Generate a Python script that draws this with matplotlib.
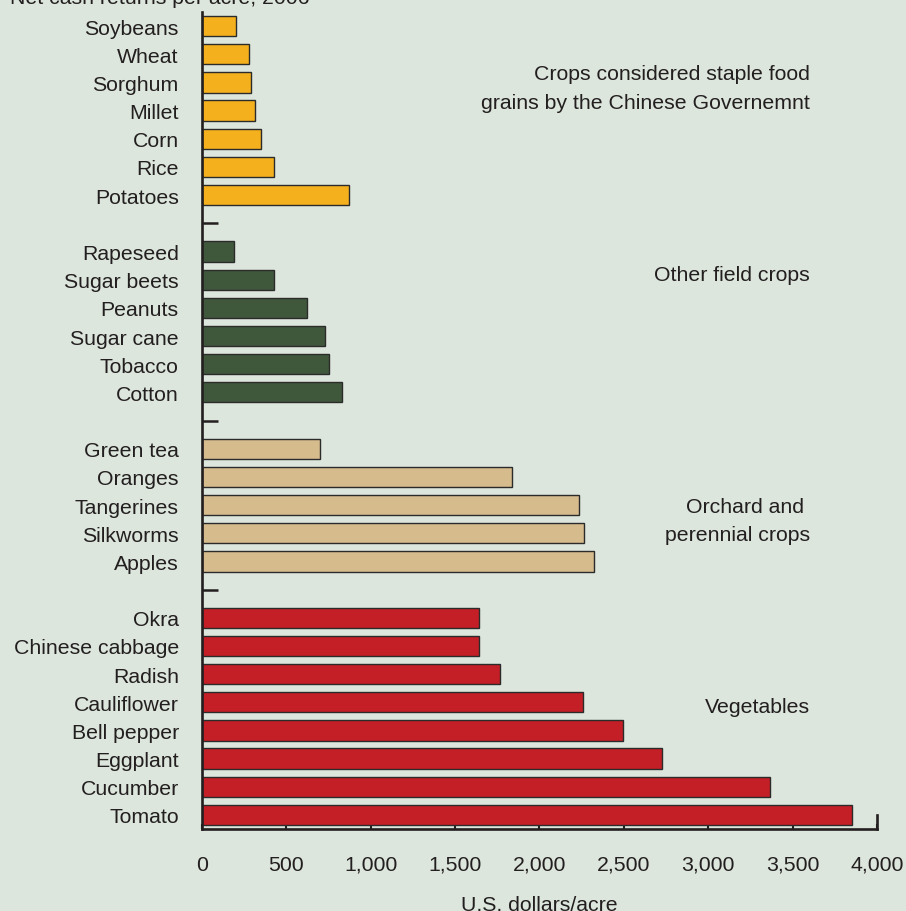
import numpy as np
import matplotlib.pyplot as plt
from matplotlib.ticker import FuncFormatter


# data, top to bottom within each group
staple_crops = ["Soybeans", "Wheat", "Sorghum", "Millet", "Corn", "Rice", "Potatoes"]
staple_values = [201, 282, 292, 314, 350, 427, 875]

field_crops = ["Rapeseed", "Sugar beets", "Peanuts", "Sugar cane", "Tobacco", "Cotton"]
field_values = [192, 429, 624, 733, 755, 830]

orchard_crops = ["Green tea", "Oranges", "Tangerines", "Silkworms", "Apples"]
orchard_values = [699, 1838, 2235, 2262, 2325]

vegetable_crops = ["Okra", "Chinese cabbage", "Radish", "Cauliflower",
                   "Bell pepper", "Eggplant", "Cucumber", "Tomato"]
vegetable_values = [1642, 1644, 1766, 2258, 2495, 2729, 3367, 3853]

group_titles = [
    "Crops considered staple food\ngrains by the Chinese Governemnt",
    "Other field crops",
    "Orchard and \nperennial crops",
    "Vegetables",
]

x_ticks = [0, 500, 1000, 1500, 2000, 2500, 3000, 3500, 4000]

# style
BG = "#dce6dc"
TEXT = "#231f20"
EDGE = "#2b2b2b"
group_colors = ["#f5b11d", "#3f573b", "#d6bb8d", "#c41e26"]
group_label_y = [2.2, 8.8, 17.55, 24.15]   # slot positions for the side titles
FS = 15.3

plt.rcParams["font.family"] = ["Liberation Sans", "DejaVu Sans"]

groups = [
    (staple_crops, staple_values),
    (field_crops, field_values),
    (orchard_crops, orchard_values),
    (vegetable_crops, vegetable_values),
]

fig = plt.figure(figsize=(9.06, 9.12), dpi=100, facecolor=BG)
ax = fig.add_axes([0.2226, 0.0899, 0.968 - 0.2226, 0.9857 - 0.0899])
ax.set_facecolor(BG)

pos = 0
ytick_pos, ytick_lab, gaps = [], [], []
for i, ((names, vals), color) in enumerate(zip(groups, group_colors)):
    y = np.arange(pos, pos + len(names))
    ax.barh(y, vals, height=0.72, color=color, edgecolor=EDGE, linewidth=1.0,
            zorder=2)
    ytick_pos.extend(y)
    ytick_lab.extend(names)
    pos += len(names)
    if i < len(groups) - 1:
        gaps.append(pos)
        pos += 1

n_slots = pos
ax.set_ylim(n_slots - 0.5, -0.5)
ax.set_xlim(0, 4000)

# small separator marks between groups
for g in gaps:
    ax.plot([0, 0.024], [g, g], transform=ax.get_yaxis_transform(),
            color=TEXT, lw=1.8, solid_capstyle="butt", clip_on=False, zorder=3)

ax.set_yticks(ytick_pos)
ax.set_yticklabels(ytick_lab)
ax.tick_params(axis="y", length=0, pad=16.5, labelsize=FS, labelcolor=TEXT)

ax.set_xticks(x_ticks)
ax.xaxis.set_major_formatter(FuncFormatter(lambda v, p: f"{v:,.0f}"))
ax.tick_params(axis="x", direction="in", length=3.5, width=1.5, color=TEXT,
               pad=18.5, labelsize=FS, labelcolor=TEXT)
ax.set_xlabel("U.S. dollars/acre", fontsize=FS, color=TEXT, labelpad=15.5)

for s in ["left", "bottom"]:
    ax.spines[s].set_linewidth(1.9)
    ax.spines[s].set_color(TEXT)
ax.spines["top"].set_visible(False)
ax.spines["right"].set_linewidth(1.9)
ax.spines["right"].set_color(TEXT)
ax.spines["right"].set_bounds(n_slots - 1.0, n_slots - 0.5)

# group titles on the right
for title, off in zip(group_titles, group_label_y):
    ax.text(0.9008, off, title, transform=ax.get_yaxis_transform(),
            ha="right", va="center", ma="right", fontsize=FS, color=TEXT,
            linespacing=1.62)

fig.text(10 / 906, 1 - 4 / 912, "Net cash returns per acre, 2006",
         fontsize=FS, color=TEXT, ha="left", va="baseline")

fig.savefig("out.png", dpi=100, facecolor=BG)
